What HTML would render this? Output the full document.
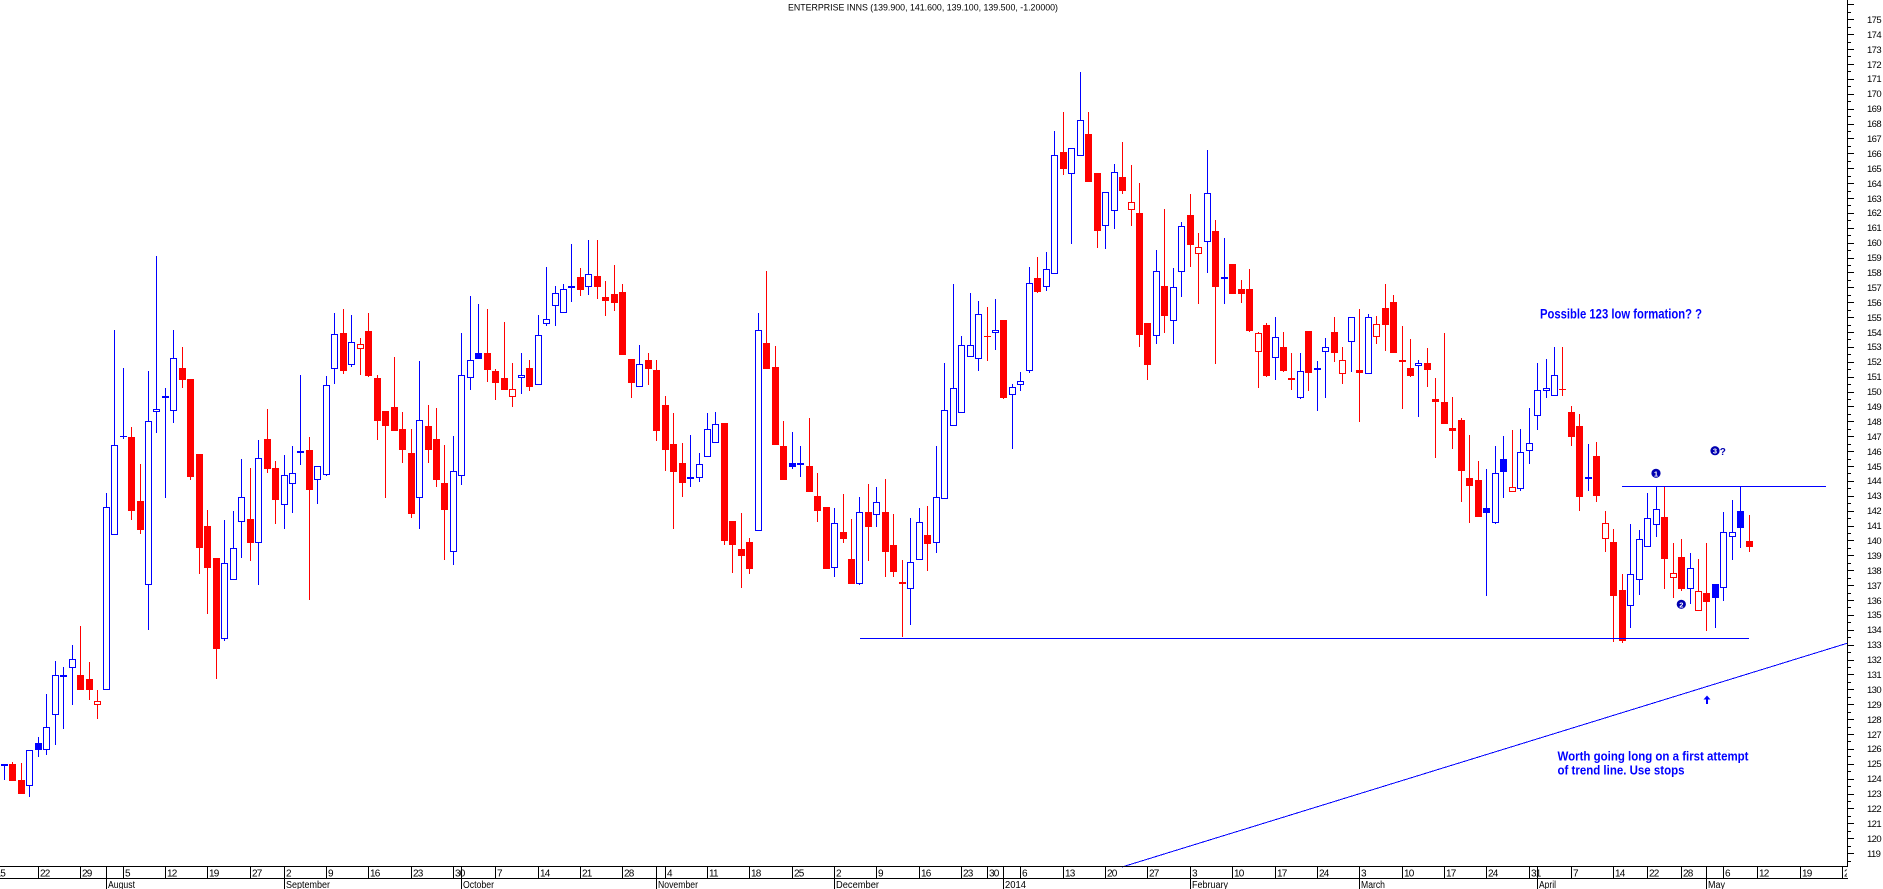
<!DOCTYPE html>
<html><head><meta charset="utf-8"><style>
html,body{margin:0;padding:0;background:#fff;width:1883px;height:889px;overflow:hidden}
svg{display:block}
text{font-family:"Liberation Sans",Arial,sans-serif}
</style></head><body>
<svg width="1883" height="889" viewBox="0 0 1883 889" xmlns="http://www.w3.org/2000/svg">
<rect width="1883" height="889" fill="#fff"/>
<defs><clipPath id="c"><rect x="0" y="0" width="1847" height="889"/></clipPath></defs>

<text x="788" y="10.5" font-size="9" textLength="270" lengthAdjust="spacingAndGlyphs" fill="#000">ENTERPRISE INNS (139.900, 141.600, 139.100, 139.500, -1.20000)</text>

<g shape-rendering="crispEdges">
<!-- blue wicks -->
<path stroke="#00f" stroke-width="1" fill="none" d="M4.5 764V780M29.5 750V797M38.5 737V757M46.5 694V755M55.5 661V745M63.5 667V729M72.5 645V705M106.5 493V690M114.5 330V535M123.5 368V439M148.5 371V630M156.5 256V433M165.5 388V498M173.5 330V423M224.5 520V641M233.5 511V580M241.5 459V558M258.5 440V585M284.5 455V529M292.5 446V513M300.5 375V465M317.5 466V504M326.5 376V476M334.5 313V384M351.5 315V367M419.5 361V529M453.5 436V565M461.5 333V485M470.5 296V390M478.5 304V359M521.5 353V394M538.5 315V385M546.5 267V326M555.5 286V326M563.5 284V313M571.5 244V302M588.5 240V295M639.5 345V387M690.5 435V487M699.5 453V482M707.5 413V457M715.5 412V443M758.5 313V531M792.5 432V469M800.5 446V477M834.5 508V577M859.5 497V585M876.5 487V527M910.5 518V625M919.5 508V560M936.5 446V553M944.5 363V499M953.5 284V426M961.5 336V413M970.5 293V357M978.5 301V371M995.5 299V350M1012.5 384V449M1020.5 372V391M1029.5 267V373M1046.5 252V291M1054.5 131V274M1071.5 148V244M1080.5 72V156M1105.5 192V249M1114.5 164V229M1156.5 250V344M1173.5 268V344M1181.5 222V297M1207.5 150V273M1224.5 238V304M1275.5 317V380M1300.5 353V399M1317.5 361V411M1325.5 338V398M1351.5 317V372M1368.5 314V374M1418.5 360V417M1486.5 469V596M1495.5 446V524M1503.5 436V498M1520.5 429V491M1529.5 408V464M1537.5 363V430M1546.5 359V398M1554.5 347V396M1588.5 444V491M1630.5 524V628M1639.5 530V595M1647.5 493V547M1656.5 486V537M1690.5 553V604M1715.5 584V628M1723.5 512V601M1732.5 500V560M1740.5 486V548"/>
<!-- red wicks -->
<path stroke="#f00" stroke-width="1" fill="none" d="M12.5 762V781M21.5 763V794M80.5 626V690M89.5 662V700M97.5 690V719M131.5 427V520M140.5 464V534M182.5 347V388M190.5 379V480M199.5 454V574M207.5 510V614M216.5 558V679M250.5 468V561M267.5 409V473M275.5 461V524M309.5 437V600M343.5 309V374M360.5 338V375M368.5 313V377M377.5 375V440M385.5 411V498M394.5 357V431M402.5 412V463M411.5 429V518M428.5 405V463M436.5 408V487M444.5 445V560M487.5 309V382M495.5 369V400M504.5 322V390M512.5 363V407M529.5 360V391M580.5 268V296M597.5 240V299M605.5 281V316M614.5 265V311M622.5 284V355M631.5 359V398M648.5 353V385M656.5 360V441M665.5 396V471M673.5 413V529M682.5 443V497M724.5 423V545M732.5 521V573M741.5 513V588M749.5 538V574M766.5 271V369M775.5 346V445M783.5 421V480M809.5 418V492M817.5 473V522M826.5 507V569M843.5 494V543M851.5 519V584M868.5 484V561M885.5 479V577M893.5 514V577M902.5 560V637M927.5 506V571M987.5 307V361M1003.5 320V399M1037.5 257V293M1063.5 112V175M1088.5 112V182M1097.5 173V248M1122.5 142V194M1131.5 165V226M1139.5 183V347M1147.5 323V380M1164.5 209V333M1190.5 194V267M1198.5 233V304M1215.5 220V364M1232.5 264V294M1241.5 280V303M1249.5 269V332M1258.5 332V388M1266.5 323V377M1283.5 332V372M1291.5 353V390M1308.5 331V391M1334.5 317V362M1342.5 347V384M1359.5 309V422M1376.5 316V344M1385.5 284V351M1393.5 295V353M1402.5 326V409M1410.5 339V377M1427.5 348V387M1435.5 378V458M1444.5 333V424M1452.5 397V449M1461.5 418V502M1469.5 435V523M1478.5 461V517M1512.5 430V492M1562.5 347V396M1571.5 406V446M1579.5 414V511M1596.5 442V502M1605.5 511V552M1613.5 529V642M1622.5 574V643M1664.5 486V589M1673.5 543V598M1681.5 539V591M1698.5 559V611M1706.5 543V631M1749.5 515V552"/>

<!-- blue hollow bodies -->
<g fill="#fff" stroke="#00f" stroke-width="1">
<rect x="26.5" y="750.5" width="6" height="35"/><rect x="43.5" y="727.5" width="6" height="22"/><rect x="52.5" y="675.5" width="6" height="39"/><rect x="69.5" y="659.5" width="6" height="8"/><rect x="103.5" y="507.5" width="6" height="182"/><rect x="111.5" y="445.5" width="6" height="89"/><rect x="145.5" y="421.5" width="6" height="163"/><rect x="153.5" y="409.5" width="6" height="2"/><rect x="170.5" y="358.5" width="6" height="52"/><rect x="221.5" y="563.5" width="6" height="75"/><rect x="230.5" y="548.5" width="6" height="31"/><rect x="238.5" y="497.5" width="6" height="24"/><rect x="255.5" y="458.5" width="6" height="84"/><rect x="281.5" y="475.5" width="6" height="29"/><rect x="289.5" y="473.5" width="6" height="10"/><rect x="314.5" y="466.5" width="6" height="13"/><rect x="323.5" y="385.5" width="6" height="89"/><rect x="331.5" y="334.5" width="6" height="34"/><rect x="348.5" y="342.5" width="6" height="22"/><rect x="416.5" y="420.5" width="6" height="77"/><rect x="450.5" y="471.5" width="6" height="80"/><rect x="458.5" y="375.5" width="6" height="100"/><rect x="467.5" y="360.5" width="6" height="17"/><rect x="518.5" y="375.5" width="6" height="2"/><rect x="535.5" y="335.5" width="6" height="49"/><rect x="543.5" y="319.5" width="6" height="4"/><rect x="552.5" y="293.5" width="6" height="12"/><rect x="560.5" y="289.5" width="6" height="23"/><rect x="585.5" y="274.5" width="6" height="12"/><rect x="636.5" y="364.5" width="6" height="22"/><rect x="696.5" y="464.5" width="6" height="13"/><rect x="704.5" y="429.5" width="6" height="27"/><rect x="712.5" y="424.5" width="6" height="18"/><rect x="755.5" y="330.5" width="6" height="200"/><rect x="831.5" y="523.5" width="6" height="44"/><rect x="856.5" y="512.5" width="6" height="71"/><rect x="873.5" y="502.5" width="6" height="12"/><rect x="907.5" y="562.5" width="6" height="26"/><rect x="916.5" y="522.5" width="6" height="37"/><rect x="933.5" y="497.5" width="6" height="45"/><rect x="941.5" y="410.5" width="6" height="88"/><rect x="950.5" y="388.5" width="6" height="37"/><rect x="958.5" y="345.5" width="6" height="67"/><rect x="967.5" y="345.5" width="6" height="11"/><rect x="975.5" y="314.5" width="6" height="44"/><rect x="992.5" y="330.5" width="6" height="2"/><rect x="1009.5" y="387.5" width="6" height="7"/><rect x="1017.5" y="381.5" width="6" height="3"/><rect x="1026.5" y="283.5" width="6" height="87"/><rect x="1043.5" y="269.5" width="6" height="17"/><rect x="1051.5" y="155.5" width="6" height="118"/><rect x="1068.5" y="148.5" width="6" height="25"/><rect x="1077.5" y="120.5" width="6" height="35"/><rect x="1102.5" y="192.5" width="6" height="33"/><rect x="1111.5" y="172.5" width="6" height="38"/><rect x="1153.5" y="271.5" width="6" height="64"/><rect x="1170.5" y="287.5" width="6" height="33"/><rect x="1178.5" y="226.5" width="6" height="45"/><rect x="1204.5" y="193.5" width="6" height="48"/><rect x="1272.5" y="337.5" width="6" height="20"/><rect x="1297.5" y="371.5" width="6" height="26"/><rect x="1322.5" y="347.5" width="6" height="4"/><rect x="1348.5" y="317.5" width="6" height="24"/><rect x="1365.5" y="317.5" width="6" height="56"/><rect x="1415.5" y="363.5" width="6" height="2"/><rect x="1492.5" y="473.5" width="6" height="49"/><rect x="1517.5" y="452.5" width="6" height="36"/><rect x="1526.5" y="443.5" width="6" height="7"/><rect x="1534.5" y="390.5" width="6" height="25"/><rect x="1543.5" y="388.5" width="6" height="2"/><rect x="1551.5" y="375.5" width="6" height="20"/><rect x="1627.5" y="574.5" width="6" height="31"/><rect x="1636.5" y="539.5" width="6" height="40"/><rect x="1644.5" y="518.5" width="6" height="28"/><rect x="1653.5" y="509.5" width="6" height="15"/><rect x="1687.5" y="568.5" width="6" height="20"/><rect x="1720.5" y="532.5" width="6" height="55"/><rect x="1729.5" y="532.5" width="6" height="4"/>
</g>

<!-- red hollow bodies -->
<g fill="#fff" stroke="#f00" stroke-width="1">
<rect x="94.5" y="701.5" width="6" height="3"/><rect x="357.5" y="344.5" width="6" height="4"/><rect x="509.5" y="389.5" width="6" height="7"/><rect x="1128.5" y="202.5" width="6" height="7"/><rect x="1195.5" y="247.5" width="6" height="6"/><rect x="1255.5" y="333.5" width="6" height="18"/><rect x="1339.5" y="360.5" width="6" height="13"/><rect x="1373.5" y="324.5" width="6" height="12"/><rect x="1509.5" y="487.5" width="6" height="4"/><rect x="1602.5" y="523.5" width="6" height="15"/><rect x="1670.5" y="573.5" width="6" height="4"/><rect x="1695.5" y="591.5" width="6" height="19"/>
</g>

<!-- blue filled bodies, dashes, crosses -->
<g fill="#00f">
<rect x="35" y="743" width="7" height="7"/><rect x="475" y="353" width="7" height="6"/><rect x="789" y="463" width="7" height="4"/><rect x="1483" y="508" width="7" height="5"/><rect x="1500" y="459" width="7" height="13"/><rect x="1712" y="584" width="7" height="14"/><rect x="1737" y="511" width="7" height="17"/>
<rect x="1" y="764" width="7" height="2"/><rect x="60" y="675" width="7" height="2"/><rect x="162" y="396" width="7" height="2"/><rect x="297" y="451" width="7" height="2"/><rect x="568" y="286" width="7" height="2"/><rect x="687" y="477" width="7" height="2"/><rect x="797" y="463" width="7" height="2"/><rect x="1221" y="277" width="7" height="2"/><rect x="1314" y="368" width="7" height="2"/><rect x="1585" y="477" width="7" height="2"/>
<rect x="120" y="436" width="7" height="1"/>
</g>

<!-- red filled bodies, dashes, crosses -->
<g fill="#f00">
<rect x="9" y="764" width="7" height="17"/><rect x="18" y="780" width="7" height="14"/><rect x="77" y="675" width="7" height="15"/><rect x="86" y="679" width="7" height="11"/><rect x="128" y="437" width="7" height="74"/><rect x="137" y="501" width="7" height="29"/><rect x="179" y="368" width="7" height="12"/><rect x="187" y="379" width="7" height="98"/><rect x="196" y="454" width="7" height="94"/><rect x="204" y="526" width="7" height="42"/><rect x="213" y="558" width="7" height="91"/><rect x="247" y="519" width="7" height="24"/><rect x="264" y="439" width="7" height="30"/><rect x="272" y="468" width="7" height="32"/><rect x="306" y="450" width="7" height="40"/><rect x="340" y="333" width="7" height="38"/><rect x="365" y="331" width="7" height="45"/><rect x="374" y="378" width="7" height="43"/><rect x="382" y="411" width="7" height="15"/><rect x="391" y="407" width="7" height="24"/><rect x="399" y="429" width="7" height="21"/><rect x="408" y="453" width="7" height="61"/><rect x="425" y="426" width="7" height="24"/><rect x="433" y="439" width="7" height="41"/><rect x="441" y="483" width="7" height="27"/><rect x="484" y="353" width="7" height="17"/><rect x="492" y="371" width="7" height="12"/><rect x="501" y="378" width="7" height="12"/><rect x="526" y="368" width="7" height="19"/><rect x="577" y="277" width="7" height="13"/><rect x="594" y="276" width="7" height="11"/><rect x="602" y="297" width="7" height="4"/><rect x="611" y="294" width="7" height="9"/><rect x="619" y="292" width="7" height="63"/><rect x="628" y="359" width="7" height="24"/><rect x="645" y="360" width="7" height="9"/><rect x="653" y="370" width="7" height="61"/><rect x="662" y="405" width="7" height="45"/><rect x="670" y="444" width="7" height="28"/><rect x="679" y="463" width="7" height="20"/><rect x="721" y="423" width="7" height="118"/><rect x="729" y="521" width="7" height="24"/><rect x="738" y="549" width="7" height="7"/><rect x="746" y="542" width="7" height="27"/><rect x="763" y="343" width="7" height="26"/><rect x="772" y="367" width="7" height="78"/><rect x="780" y="446" width="7" height="34"/><rect x="806" y="466" width="7" height="26"/><rect x="814" y="496" width="7" height="15"/><rect x="823" y="507" width="7" height="62"/><rect x="840" y="532" width="7" height="7"/><rect x="848" y="559" width="7" height="25"/><rect x="865" y="512" width="7" height="15"/><rect x="882" y="512" width="7" height="40"/><rect x="890" y="545" width="7" height="27"/><rect x="924" y="535" width="7" height="9"/><rect x="1000" y="320" width="7" height="78"/><rect x="1034" y="278" width="7" height="14"/><rect x="1060" y="152" width="7" height="17"/><rect x="1085" y="134" width="7" height="48"/><rect x="1094" y="173" width="7" height="58"/><rect x="1119" y="177" width="7" height="14"/><rect x="1136" y="213" width="7" height="122"/><rect x="1144" y="323" width="7" height="42"/><rect x="1161" y="286" width="7" height="30"/><rect x="1187" y="215" width="7" height="30"/><rect x="1212" y="231" width="7" height="56"/><rect x="1229" y="264" width="7" height="30"/><rect x="1238" y="289" width="7" height="5"/><rect x="1246" y="289" width="7" height="42"/><rect x="1263" y="325" width="7" height="51"/><rect x="1280" y="347" width="7" height="24"/><rect x="1305" y="331" width="7" height="42"/><rect x="1331" y="332" width="7" height="21"/><rect x="1356" y="370" width="7" height="3"/><rect x="1382" y="308" width="7" height="17"/><rect x="1390" y="302" width="7" height="51"/><rect x="1407" y="368" width="7" height="8"/><rect x="1424" y="363" width="7" height="7"/><rect x="1432" y="399" width="7" height="3"/><rect x="1441" y="402" width="7" height="22"/><rect x="1449" y="428" width="7" height="3"/><rect x="1458" y="420" width="7" height="51"/><rect x="1466" y="478" width="7" height="8"/><rect x="1475" y="480" width="7" height="37"/><rect x="1568" y="412" width="7" height="25"/><rect x="1576" y="426" width="7" height="71"/><rect x="1593" y="456" width="7" height="40"/><rect x="1610" y="542" width="7" height="54"/><rect x="1619" y="590" width="7" height="51"/><rect x="1661" y="517" width="7" height="42"/><rect x="1678" y="557" width="7" height="32"/><rect x="1703" y="593" width="7" height="9"/><rect x="1746" y="541" width="7" height="6"/>
<rect x="899" y="582" width="7" height="2"/><rect x="1288" y="378" width="7" height="2"/><rect x="1399" y="360" width="7" height="2"/>
<rect x="984" y="336" width="7" height="1"/><rect x="1559" y="389" width="7" height="1"/>
</g>

<!-- annotation lines -->
<rect x="860" y="638" width="889" height="1" fill="#00f"/>
<rect x="1622" y="486" width="204" height="1" fill="#00f"/>
<line x1="1122" y1="867" x2="1847" y2="643.3" stroke="#00f" stroke-width="1"/>

<!-- right axis -->
<rect x="1847" y="0" width="1" height="867" fill="#000"/>
<path stroke="#000" stroke-width="1" fill="none" d="M1848 4.5h6M1848 19.5h6M1848 34.5h6M1848 49.5h6M1848 64.5h6M1848 79.5h6M1848 94.5h6M1848 109.5h6M1848 124.5h6M1848 138.5h6M1848 153.5h6M1848 168.5h6M1848 183.5h6M1848 198.5h6M1848 213.5h6M1848 228.5h6M1848 243.5h6M1848 258.5h6M1848 272.5h6M1848 287.5h6M1848 302.5h6M1848 317.5h6M1848 332.5h6M1848 347.5h6M1848 362.5h6M1848 377.5h6M1848 392.5h6M1848 406.5h6M1848 421.5h6M1848 436.5h6M1848 451.5h6M1848 466.5h6M1848 481.5h6M1848 496.5h6M1848 511.5h6M1848 526.5h6M1848 540.5h6M1848 555.5h6M1848 570.5h6M1848 585.5h6M1848 600.5h6M1848 615.5h6M1848 630.5h6M1848 645.5h6M1848 660.5h6M1848 674.5h6M1848 689.5h6M1848 704.5h6M1848 719.5h6M1848 734.5h6M1848 749.5h6M1848 764.5h6M1848 779.5h6M1848 794.5h6M1848 808.5h6M1848 823.5h6M1848 838.5h6M1848 853.5h6
M1848 12.5h3M1848 27.5h3M1848 42.5h3M1848 56.5h3M1848 71.5h3M1848 86.5h3M1848 101.5h3M1848 116.5h3M1848 131.5h3M1848 146.5h3M1848 161.5h3M1848 176.5h3M1848 191.5h3M1848 205.5h3M1848 220.5h3M1848 235.5h3M1848 250.5h3M1848 265.5h3M1848 280.5h3M1848 295.5h3M1848 310.5h3M1848 325.5h3M1848 339.5h3M1848 354.5h3M1848 369.5h3M1848 384.5h3M1848 399.5h3M1848 414.5h3M1848 429.5h3M1848 444.5h3M1848 459.5h3M1848 473.5h3M1848 488.5h3M1848 503.5h3M1848 518.5h3M1848 533.5h3M1848 548.5h3M1848 563.5h3M1848 578.5h3M1848 593.5h3M1848 607.5h3M1848 622.5h3M1848 637.5h3M1848 652.5h3M1848 667.5h3M1848 682.5h3M1848 697.5h3M1848 712.5h3M1848 727.5h3M1848 741.5h3M1848 756.5h3M1848 771.5h3M1848 786.5h3M1848 801.5h3M1848 816.5h3M1848 831.5h3M1848 846.5h3M1848 861.5h3"/>

<!-- bottom axis -->
<rect x="0" y="866" width="1848" height="1" fill="#000"/>
<rect x="0" y="878" width="1848" height="1" fill="#000"/>
<path stroke="#000" stroke-width="1" fill="none" d="M38.5 867V878M80.5 867V878M123.5 867V878M165.5 867V878M207.5 867V878M250.5 867V878M284.5 867V878M326.5 867V878M368.5 867V878M411.5 867V878M453.5 867V878M495.5 867V878M538.5 867V878M580.5 867V878M622.5 867V878M665.5 867V878M707.5 867V878M749.5 867V878M792.5 867V878M834.5 867V878M876.5 867V878M919.5 867V878M961.5 867V878M987.5 867V878M1020.5 867V878M1063.5 867V878M1105.5 867V878M1147.5 867V878M1190.5 867V878M1232.5 867V878M1275.5 867V878M1317.5 867V878M1359.5 867V878M1402.5 867V878M1444.5 867V878M1486.5 867V878M1529.5 867V878M1571.5 867V878M1613.5 867V878M1647.5 867V878M1681.5 867V878M1723.5 867V878M1757.5 867V878M1800.5 867V878M1842.5 867V878
M106.5 867V889M284.5 867V889M461.5 867V889M656.5 867V889M834.5 867V889M1003.5 867V889M1190.5 867V889M1359.5 867V889M1537.5 867V889M1706.5 867V889"/>
</g>

<g clip-path="url(#c)" font-size="10" fill="#000" letter-spacing="-0.8">
<text x="-4.5" y="876.5">15</text><text x="40" y="876.5">22</text><text x="82" y="876.5">29</text><text x="125" y="876.5">5</text><text x="167" y="876.5">12</text><text x="209" y="876.5">19</text><text x="252" y="876.5">27</text><text x="286" y="876.5">2</text><text x="328" y="876.5">9</text><text x="370" y="876.5">16</text><text x="413" y="876.5">23</text><text x="455" y="876.5">30</text><text x="497" y="876.5">7</text><text x="540" y="876.5">14</text><text x="582" y="876.5">21</text><text x="624" y="876.5">28</text><text x="667" y="876.5">4</text><text x="709" y="876.5">11</text><text x="751" y="876.5">18</text><text x="794" y="876.5">25</text><text x="836" y="876.5">2</text><text x="878" y="876.5">9</text><text x="921" y="876.5">16</text><text x="963" y="876.5">23</text><text x="989" y="876.5">30</text><text x="1022" y="876.5">6</text><text x="1065" y="876.5">13</text><text x="1107" y="876.5">20</text><text x="1149" y="876.5">27</text><text x="1192" y="876.5">3</text><text x="1234" y="876.5">10</text><text x="1277" y="876.5">17</text><text x="1319" y="876.5">24</text><text x="1361" y="876.5">3</text><text x="1404" y="876.5">10</text><text x="1446" y="876.5">17</text><text x="1488" y="876.5">24</text><text x="1531" y="876.5">31</text><text x="1573" y="876.5">7</text><text x="1615" y="876.5">14</text><text x="1649" y="876.5">22</text><text x="1683" y="876.5">28</text><text x="1725" y="876.5">6</text><text x="1759" y="876.5">12</text><text x="1802" y="876.5">19</text><text x="1844" y="876.5">27</text>
</g>
<g font-size="10" fill="#000">
<text x="108" y="888" textLength="27" lengthAdjust="spacingAndGlyphs">August</text>
<text x="286" y="888" textLength="44" lengthAdjust="spacingAndGlyphs">September</text>
<text x="463" y="888" textLength="31" lengthAdjust="spacingAndGlyphs">October</text>
<text x="658" y="888" textLength="40" lengthAdjust="spacingAndGlyphs">November</text>
<text x="836" y="888" textLength="43" lengthAdjust="spacingAndGlyphs">December</text>
<text x="1005" y="888" textLength="21" lengthAdjust="spacingAndGlyphs">2014</text>
<text x="1192" y="888" textLength="36" lengthAdjust="spacingAndGlyphs">February</text>
<text x="1361" y="888" textLength="24" lengthAdjust="spacingAndGlyphs">March</text>
<text x="1539" y="888" textLength="17" lengthAdjust="spacingAndGlyphs">April</text>
<text x="1708" y="888" textLength="17" lengthAdjust="spacingAndGlyphs">May</text>
</g>

<g font-size="9.5" fill="#000" letter-spacing="-0.6">
<text x="1867" y="23">175</text><text x="1867" y="38">174</text><text x="1867" y="53">173</text><text x="1867" y="68">172</text><text x="1867" y="82">171</text><text x="1867" y="97">170</text><text x="1867" y="112">169</text><text x="1867" y="127">168</text><text x="1867" y="142">167</text><text x="1867" y="157">166</text><text x="1867" y="172">165</text><text x="1867" y="187">164</text><text x="1867" y="202">163</text><text x="1867" y="216">162</text><text x="1867" y="231">161</text><text x="1867" y="246">160</text><text x="1867" y="261">159</text><text x="1867" y="276">158</text><text x="1867" y="291">157</text><text x="1867" y="306">156</text><text x="1867" y="321">155</text><text x="1867" y="336">154</text><text x="1867" y="350">153</text><text x="1867" y="365">152</text><text x="1867" y="380">151</text><text x="1867" y="395">150</text><text x="1867" y="410">149</text><text x="1867" y="425">148</text><text x="1867" y="440">147</text><text x="1867" y="455">146</text><text x="1867" y="470">145</text><text x="1867" y="484">144</text><text x="1867" y="499">143</text><text x="1867" y="514">142</text><text x="1867" y="529">141</text><text x="1867" y="544">140</text><text x="1867" y="559">139</text><text x="1867" y="574">138</text><text x="1867" y="589">137</text><text x="1867" y="604">136</text><text x="1867" y="618">135</text><text x="1867" y="633">134</text><text x="1867" y="648">133</text><text x="1867" y="663">132</text><text x="1867" y="678">131</text><text x="1867" y="693">130</text><text x="1867" y="708">129</text><text x="1867" y="723">128</text><text x="1867" y="738">127</text><text x="1867" y="752">126</text><text x="1867" y="767">125</text><text x="1867" y="782">124</text><text x="1867" y="797">123</text><text x="1867" y="812">122</text><text x="1867" y="827">121</text><text x="1867" y="842">120</text><text x="1867" y="857">119</text>
</g>

<!-- annotations -->
<g fill="#00f" font-weight="bold">
<text x="1540" y="318.5" font-size="13.5" textLength="162" lengthAdjust="spacingAndGlyphs">Possible 123 low formation? ?</text>
<text x="1557.5" y="760.5" font-size="12.5" textLength="191" lengthAdjust="spacingAndGlyphs">Worth going long on a first attempt</text>
<text x="1557.5" y="774.5" font-size="12.5" textLength="127" lengthAdjust="spacingAndGlyphs">of trend line. Use stops</text>
</g>
<circle cx="1656" cy="473.3" r="4.6" fill="#0000b0"/>
<text x="1656" y="476.3" font-size="7.5" font-weight="bold" fill="#fff" text-anchor="middle">1</text>
<circle cx="1681.3" cy="604.3" r="4.6" fill="#0000b0"/>
<text x="1681.3" y="607.3" font-size="7.5" font-weight="bold" fill="#fff" text-anchor="middle">2</text>
<circle cx="1715" cy="450.7" r="4.6" fill="#0000b0"/>
<text x="1715" y="453.7" font-size="7.5" font-weight="bold" fill="#fff" text-anchor="middle">3</text>
<text x="1719.8" y="455" font-size="10" font-weight="bold" fill="#0000b0">?</text>
<rect x="1706" y="698" width="2" height="6" fill="#00f"/>
<polygon points="1703.5,699.5 1707,695.5 1710.5,699.5" fill="#00f"/>
</svg>
</body></html>
